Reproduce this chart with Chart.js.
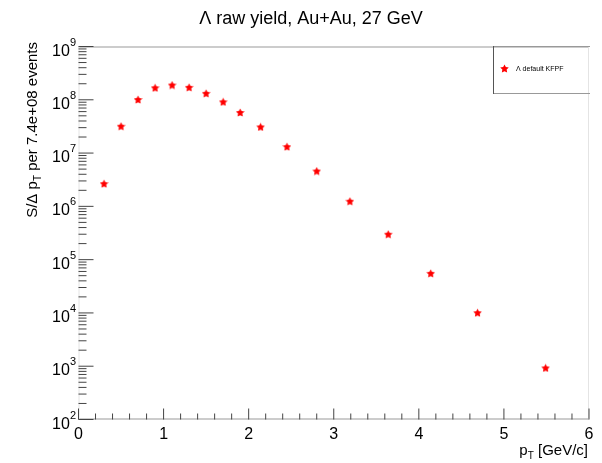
<!DOCTYPE html>
<html>
<head>
<meta charset="utf-8">
<script src="https://cdn.jsdelivr.net/npm/chart.js@4.4.1/dist/chart.umd.min.js"></script>
<style>
  html, body { margin: 0; padding: 0; background: #fff; }
  canvas { display: block; }
</style>
</head>
<body>
<canvas id="chart" width="602" height="463"></canvas>
<script>
const ptValues = [0.30, 0.50, 0.70, 0.90, 1.10, 1.30, 1.50, 1.70, 1.90, 2.14, 2.45, 2.80, 3.19, 3.64, 4.14, 4.69, 5.49];
const yieldValues = [2.67e6, 3.19e7, 1.01e8, 1.68e8, 1.89e8, 1.71e8, 1.32e8, 9.15e7, 5.78e7, 3.10e7, 1.32e7, 4.6e6, 1.25e6, 3.0e5, 5.53e4, 1.01e4, 9.3e2];
const xTickLabels = ["0", "1", "2", "3", "4", "5", "6"];
const yExponents = [2, 3, 4, 5, 6, 7, 8, 9];
const seriesLabel = "\u039B default KFPF";
const titleText = "\u039B raw yield, Au+Au, 27 GeV";

const FONT = '"Liberation Sans", Arial, sans-serif';

// filled 5-point star like ROOT marker 29
function makeStar(size, color) {
  const c = document.createElement("canvas");
  c.width = size;
  c.height = size;
  const g = c.getContext("2d");
  const r1 = size / 2, r2 = r1 * 0.5;
  g.fillStyle = color;
  g.beginPath();
  for (let i = 0; i < 10; i++) {
    const r = i % 2 ? r2 : r1;
    const a = -Math.PI / 2 + i * Math.PI / 5;
    const px = size / 2 + r * Math.cos(a), py = size / 2 + r * Math.sin(a) + 0.4;
    if (i === 0) g.moveTo(px, py); else g.lineTo(px, py);
  }
  g.closePath();
  g.fill();
  return c;
}
const star = makeStar(9, "#ff0000");

const rootFrame = {
  id: "rootFrame",
  beforeDraw(chart) {
    const ctx = chart.ctx;
    ctx.save();
    ctx.fillStyle = "#fff";
    ctx.fillRect(0, 0, chart.width, chart.height);
    ctx.restore();
  },
  beforeDatasetsDraw(chart) {
    const { ctx, chartArea: a, scales } = chart;
    const xs = scales.x, ys = scales.y;
    ctx.save();
    ctx.lineWidth = 1;

    // frame
    ctx.strokeStyle = "#999";
    ctx.beginPath();
    ctx.moveTo(a.left, a.top + 0.5); ctx.lineTo(a.right, a.top + 0.5);
    ctx.moveTo(a.left, a.bottom - 0.5); ctx.lineTo(a.right, a.bottom - 0.5);
    ctx.stroke();
    ctx.strokeStyle = "#e4e4e4";
    ctx.beginPath();
    ctx.moveTo(a.left + 0.5, a.top); ctx.lineTo(a.left + 0.5, a.bottom);
    ctx.moveTo(a.right - 0.5, a.top); ctx.lineTo(a.right - 0.5, a.bottom);
    ctx.stroke();

    // y ticks (log)
    ctx.strokeStyle = "#444";
    ctx.beginPath();
    for (let e = yExponents[0]; e <= yExponents[yExponents.length - 1]; e++) {
      for (let m = 1; m <= 9; m++) {
        const v = m * Math.pow(10, e);
        if (v > ys.max) break;
        const y = ys.getPixelForValue(v);
        const len = m === 1 ? 15 : 8;
        ctx.moveTo(a.left, y); ctx.lineTo(a.left + len, y);
      }
    }
    ctx.stroke();

    // x ticks
    ctx.beginPath();
    for (let i = 0; i <= 30; i++) {
      const v = i * 0.2;
      const x = xs.getPixelForValue(v);
      const len = i % 5 === 0 ? 11 : 6;
      ctx.moveTo(x, a.bottom); ctx.lineTo(x, a.bottom - len);
    }
    ctx.stroke();

    // x labels
    ctx.fillStyle = "#000";
    ctx.font = "16px " + FONT;
    ctx.textAlign = "center";
    ctx.textBaseline = "alphabetic";
    xTickLabels.forEach((t, i) => {
      ctx.fillText(t, xs.getPixelForValue(i), a.bottom + 19);
    });

    // y labels 10^n
    yExponents.forEach((e) => {
      const y = ys.getPixelForValue(Math.pow(10, e));
      ctx.font = "11px " + FONT;
      ctx.textAlign = "right";
      const ew = ctx.measureText(String(e)).width;
      ctx.fillText(String(e), 76, y - 1);
      ctx.font = "16px " + FONT;
      ctx.fillText("10", 76 - ew, y + 9);
    });

    // title
    ctx.font = "18px " + FONT;
    ctx.textAlign = "center";
    ctx.fillText(titleText, 311, 24);

    // x title: p_T [GeV/c], right aligned
    ctx.textAlign = "left";
    ctx.font = "15px " + FONT;
    const rest = " [GeV/c]";
    const wRest = ctx.measureText(rest).width;
    const wP = ctx.measureText("p").width;
    ctx.font = "10px " + FONT;
    const wT = ctx.measureText("T").width;
    let x0 = 588 - wRest - wT - wP;
    ctx.font = "15px " + FONT;
    ctx.fillText("p", x0, 455);
    ctx.font = "10px " + FONT;
    ctx.fillText("T", x0 + wP, 459);
    ctx.font = "15px " + FONT;
    ctx.fillText(rest, x0 + wP + wT, 455);

    // y title rotated, right aligned at top
    ctx.save();
    ctx.translate(37, 42);
    ctx.rotate(-Math.PI / 2);
    ctx.textAlign = "left";
    const p1 = "S/\u0394 p", p2 = " per 7.4e+08 events";
    ctx.font = "15px " + FONT;
    const w1 = ctx.measureText(p1).width, w2 = ctx.measureText(p2).width;
    ctx.font = "10px " + FONT;
    const wt = ctx.measureText("T").width;
    const start = -(w1 + wt + w2);
    ctx.font = "15px " + FONT;
    ctx.fillText(p1, start, 0);
    ctx.font = "10px " + FONT;
    ctx.fillText("T", start + w1, 4);
    ctx.font = "15px " + FONT;
    ctx.fillText(p2, start + w1 + wt, 0);
    ctx.restore();

    ctx.restore();
  },
  afterDraw(chart) {
    const ctx = chart.ctx;
    ctx.save();
    // legend box
    ctx.lineWidth = 1;
    ctx.strokeStyle = "#999";
    ctx.beginPath();
    ctx.moveTo(493, 46.5); ctx.lineTo(590, 46.5);
    ctx.moveTo(493, 93.5); ctx.lineTo(590, 93.5);
    ctx.stroke();
    ctx.strokeStyle = "#555";
    ctx.beginPath();
    ctx.moveTo(493.5, 46); ctx.lineTo(493.5, 94);
    ctx.stroke();
    ctx.drawImage(star, 500, 64);
    ctx.fillStyle = "#000";
    ctx.font = "7px " + FONT;
    ctx.textAlign = "left";
    ctx.textBaseline = "middle";
    ctx.fillText(seriesLabel, 516, 69);
    ctx.restore();
  }
};

new Chart(document.getElementById("chart"), {
  type: "scatter",
  data: {
    datasets: [{
      label: seriesLabel,
      data: ptValues.map((x, i) => ({ x: x, y: yieldValues[i] })),
      pointStyle: star,
      pointRadius: 5,
      pointHoverRadius: 5
    }]
  },
  options: {
    responsive: false,
    animation: false,
    events: [],
    layout: { padding: { left: 78.5, top: 46.5, right: 13, bottom: 43.5 } },
    scales: {
      x: { type: "linear", min: 0, max: 6, display: false },
      y: { type: "logarithmic", min: 100, max: 1e9, display: false }
    },
    plugins: {
      legend: { display: false },
      tooltip: { enabled: false },
      title: { display: false }
    }
  },
  plugins: [rootFrame]
});
</script>
</body>
</html>
